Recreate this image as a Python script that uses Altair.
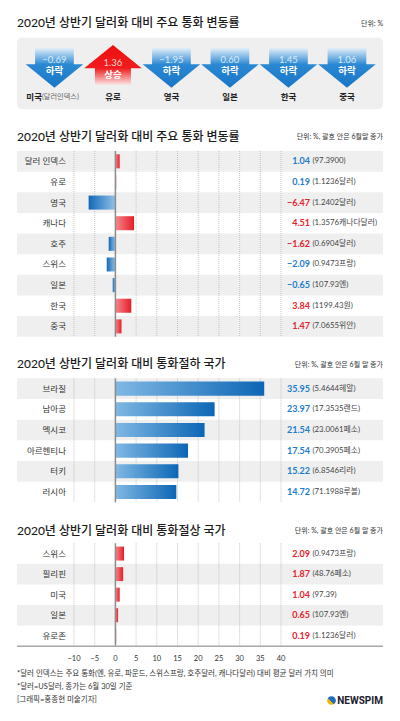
import altair as alt
import pandas as pd

# ---------------- data ----------------
arrow_names = ["미국", "유로", "영국", "일본", "한국", "중국"]
arrow_vals = [-0.69, 1.36, -1.95, 0.60, 1.45, 1.06]
arrow_dir = ["하락", "상승", "하락", "하락", "하락", "하락"]
arrow_suffix = ["(달러인덱스)", "", "", "", "", ""]

cats2 = ["달러 인덱스", "유로", "영국", "캐나다", "호주", "스위스", "일본", "한국", "중국"]
vals2 = [1.04, 0.19, -6.47, 4.51, -1.62, -2.09, -0.65, 3.84, 1.47]
notes2 = ["(97.3900)", "(1.1236달러)", "(1.2402달러)", "(1.3576캐나다달러)", "(0.6904달러)",
          "(0.9473프랑)", "(107.93엔)", "(1199.43원)", "(7.0655위안)"]
tones2 = ["blue", "blue", "red", "red", "red", "blue", "blue", "red", "red"]

cats3 = ["브라질", "남아공", "멕시코", "아르헨티나", "터키", "러시아"]
vals3 = [35.95, 23.97, 21.54, 17.54, 15.22, 14.72]
notes3 = ["(5.4644헤알)", "(17.3535랜드)", "(23.0061페소)", "(70.3905페소)", "(6.8546리라)", "(71.1988루블)"]
tones3 = ["blue"] * 6

cats4 = ["스위스", "필리핀", "미국", "일본", "유로존"]
vals4 = [2.09, 1.87, 1.04, 0.65, 0.19]
notes4 = ["(0.9473프랑)", "(48.76페소)", "(97.39)", "(107.93엔)", "(1.1236달러)"]
tones4 = ["red"] * 5

ticks = [-10, -5, 0, 5, 10, 15, 20, 25, 30, 35, 40]

titles = ["2020년 상반기 달러화 대비 주요 통화 변동률",
          "2020년 상반기 달러화 대비 주요 통화 변동률",
          "2020년 상반기 달러화 대비 통화절하 국가",
          "2020년 상반기 달러화 대비 통화절상 국가"]
units = ["단위: %", "단위: %, 괄호 안은 6월말 종가", "단위: %, 괄호 안은 6월 말 종가", "단위: %, 괄호 안은 6월 말 종가"]
footnotes = ["*달러 인덱스는 주요 통화(엔, 유로, 파운드, 스위스프랑, 호주달러, 캐나다달러) 대비 평균 달러 가치 의미",
             "*달러=US달러, 종가는 6월 30일 기준",
             "[그래픽=홍종현 미술기자]"]

# ---------------- style ----------------
FONT = "Lato, Noto Sans CJK KR, sans-serif"
BLUE = "#1b7dcc"
RED = "#e8222b"
W, H = 384, 705
LEFT, RIGHT = 9, 375
X_RANGE = [66, 273]

red_grad = {"gradient": "linear", "x1": 0, "y1": 0, "x2": 1, "y2": 0,
            "stops": [{"offset": 0, "color": "#f6868c"}, {"offset": 1, "color": "#e61e29"}]}
blue_grad = {"gradient": "linear", "x1": 0, "y1": 0, "x2": 1, "y2": 0,
             "stops": [{"offset": 0, "color": "#80b8e4"}, {"offset": 1, "color": "#0c66b5"}]}
blue_neg_grad = {"gradient": "linear", "x1": 0, "y1": 0, "x2": 1, "y2": 0,
                 "stops": [{"offset": 0, "color": "#1467b5"}, {"offset": 1, "color": "#90c2e9"}]}
down_grad = {"gradient": "linear", "x1": 0, "y1": 0, "x2": 0, "y2": 1,
             "stops": [{"offset": 0, "color": "#e6f1fa"}, {"offset": 0.42, "color": "#2b88d3"},
                       {"offset": 1, "color": "#1876c6"}]}
up_grad = {"gradient": "linear", "x1": 0, "y1": 0, "x2": 0, "y2": 1,
           "stops": [{"offset": 0, "color": "#ee1010"}, {"offset": 0.58, "color": "#f11c1c"},
                     {"offset": 1, "color": "#fbe6e6"}]}

DOWN_PATH = "M -0.672 -0.694 L 0.672 -0.694 L 0.672 -0.118 L 1 -0.118 L 0 0.694 L -1 -0.118 L -0.672 -0.118 Z"
UP_PATH = "M 0 -0.694 L 1 0.115 L 0.625 0.115 L 0.625 0.694 L -0.625 0.694 L -0.625 0.115 L -1 0.115 Z"

layers = []


def one(text):
    return alt.Chart(pd.DataFrame({"t": [text]}))


# ---------------- titles ----------------
title_y = [15.3, 128.7, 356, 522.5]
for t, u, ty in zip(titles, units, title_y):
    layers.append(one(t).mark_text(align="left", baseline="middle", fontSize=12, fontWeight=500,
                                   color="#1a1a1a", font=FONT)
                  .encode(text="t:N", x=alt.value(LEFT), y=alt.value(ty)))
    layers.append(one(u).mark_text(align="right", baseline="middle", fontSize=7, color="#333", font=FONT)
                  .encode(text="t:N", x=alt.value(RIGHT), y=alt.value(ty + 0.5)))

# ---------------- arrow panel ----------------
layers.append(one("").mark_rect(fill="#efefef", cornerRadius=5)
              .encode(x=alt.value(LEFT), x2=alt.value(RIGHT), y=alt.value(29.7), y2=alt.value(101.3)))

adf = pd.DataFrame({"name": arrow_names, "v": arrow_vals, "dir": arrow_dir,
                    "suf": arrow_suffix, "i": list(range(len(arrow_names)))})
AX = alt.X("name:N", scale=alt.Scale(domain=arrow_names, range=[17.2, 368.2], paddingInner=0, paddingOuter=0),
           axis=None)
abase = alt.Chart(adf)
down = abase.transform_filter("datum.dir == '하락'")
up = abase.transform_filter("datum.dir == '상승'")
layers.append(down.mark_point(shape=DOWN_PATH, size=3318, filled=True, fill=down_grad, strokeWidth=0, opacity=1)
              .encode(x=AX, y=alt.value(59.7)))
layers.append(up.mark_point(shape=UP_PATH, size=3318, filled=True, fill=up_grad, strokeWidth=0, opacity=1)
              .encode(x=AX, y=alt.value(57)))
layers.append(down.mark_text(fontSize=9.5, color="#d6ebfa", font=FONT, baseline="middle")
              .encode(x=AX, y=alt.value(52), text=alt.Text("v:Q", format=".2f")))
layers.append(down.mark_text(fontSize=9.5, color="white", fontWeight="bold", font=FONT, baseline="middle")
              .encode(x=AX, y=alt.value(62.8), text="dir:N"))
layers.append(up.mark_text(fontSize=9.5, color="#ffd3d3", font=FONT, baseline="middle")
              .encode(x=AX, y=alt.value(55.3), text=alt.Text("v:Q", format=".2f")))
layers.append(up.mark_text(fontSize=9.5, color="white", fontWeight="bold", font=FONT, baseline="middle")
              .encode(x=AX, y=alt.value(66.5), text="dir:N"))
layers.append(abase.transform_filter("datum.i > 0")
              .mark_text(fontSize=8.5, color="#222", fontWeight="bold", font=FONT, baseline="middle")
              .encode(x=AX, y=alt.value(88.7), text="name:N"))
layers.append(abase.transform_filter("datum.i == 0")
              .mark_text(fontSize=8.5, color="#222", fontWeight="bold", font=FONT, baseline="middle",
                         align="right", dx=-12.5)
              .encode(x=AX, y=alt.value(88.7), text="name:N"))
layers.append(abase.transform_filter("datum.i == 0")
              .mark_text(fontSize=7.2, color="#666", font=FONT, baseline="middle", align="left", dx=-12.5)
              .encode(x=AX, y=alt.value(88.7), text="suf:N"))

# ---------------- bar sections ----------------
xsc = alt.Scale(domain=[ticks[0], ticks[-1]], range=X_RANGE, nice=False, zero=False)
tdf = pd.DataFrame({"t": ticks})


def section(cats, vals, notes, tones, yr, parity, pos_fill):
    df = pd.DataFrame({"cat": cats, "v": vals, "note": notes, "tone": tones, "i": list(range(len(cats)))})
    Y = alt.Y("cat:N", scale=alt.Scale(domain=cats, range=yr, paddingInner=0, paddingOuter=0), axis=None)
    X = alt.X("v:Q", scale=xsc, axis=None)
    base = alt.Chart(df)
    out = []
    out.append(base.transform_filter(f"datum.i % 2 == {parity}").mark_rect(fill="#efefef")
               .encode(x=alt.value(LEFT), x2=alt.value(RIGHT), y=Y))
    out.append(alt.Chart(tdf).transform_filter("datum.t != 0")
               .mark_rule(color="#b8b8b8", strokeDash=[1, 1], strokeWidth=0.8)
               .encode(x=alt.X("t:Q", scale=xsc, axis=None), y=alt.value(yr[0]), y2=alt.value(yr[1])))
    out.append(base.transform_filter("datum.v >= 0")
               .mark_bar(fill=pos_fill, height={"band": 0.68})
               .encode(x=X, x2=alt.datum(0), y=Y))
    out.append(base.transform_filter("datum.v < 0")
               .mark_bar(fill=blue_neg_grad, height={"band": 0.68})
               .encode(x=X, x2=alt.datum(0), y=Y))
    out.append(alt.Chart(tdf).transform_filter("datum.t == 0")
               .mark_rule(color="#8c8c8c", strokeWidth=1.5)
               .encode(x=alt.X("t:Q", scale=xsc, axis=None), y=alt.value(yr[0]), y2=alt.value(yr[1])))
    out.append(base.mark_text(align="right", baseline="middle", fontSize=8.5, color="#333", font=FONT)
               .encode(text="cat:N", x=alt.value(58), y=Y))
    out.append(base.mark_text(align="right", baseline="middle", fontSize=9, fontWeight="bold", font=FONT)
               .encode(text=alt.Text("v:Q", format=".2f"),
                       color=alt.Color("tone:N", scale=alt.Scale(domain=["blue", "red"], range=[BLUE, RED]),
                                       legend=None),
                       x=alt.value(302), y=Y))
    out.append(base.mark_text(align="left", baseline="middle", fontSize=7.8, color="#444", font=FONT)
               .encode(text="note:N", x=alt.value(304.5), y=Y))
    return out


layers += section(cats2, vals2, notes2, tones2, [143, 328.7], 0, red_grad)
layers += section(cats3, vals3, notes3, tones3, [370.3, 494.3], 0, blue_grad)
layers += section(cats4, vals4, notes4, tones4, [535.3, 638], 1, red_grad)

# bottom axis line and tick labels
layers.append(one("").mark_rule(color="#a8a8a8", strokeWidth=1.5)
              .encode(x=alt.value(LEFT), x2=alt.value(RIGHT), y=alt.value(638.2)))
layers.append(alt.Chart(tdf).mark_text(fontSize=7.5, color="#333", font=FONT, baseline="middle")
              .encode(x=alt.X("t:Q", scale=xsc, axis=None), y=alt.value(650.5), text="t:Q"))

# footnotes
for fn, fy in zip(footnotes, [666, 678.5, 692]):
    layers.append(one(fn).mark_text(align="left", baseline="middle", fontSize=7.5, color="#333", font=FONT)
                  .encode(text="t:N", x=alt.value(LEFT), y=alt.value(fy)))

# logo
logo_grad = {"gradient": "linear", "x1": 0, "y1": 1, "x2": 1, "y2": 0,
             "stops": [{"offset": 0, "color": "#f4b400"}, {"offset": 0.4, "color": "#f4b400"},
                       {"offset": 0.45, "color": "#1a6fc0"}, {"offset": 1, "color": "#1a6fc0"}]}
layers.append(one("").mark_point(shape="circle", size=75, filled=True, fill=logo_grad, strokeWidth=0, opacity=1)
              .encode(x=alt.value(323.5), y=alt.value(692.5)))
layers.append(one("NEWSPIM").mark_text(align="right", baseline="middle", fontSize=10, fontWeight="bold",
                                       color="#1c1c2a", font="Roboto, sans-serif")
              .encode(text="t:N", x=alt.value(RIGHT), y=alt.value(692.5)))

chart = (alt.layer(*layers)
         .resolve_scale(x="independent", y="independent", color="independent")
         .properties(width=W, height=H, autosize=alt.AutoSizeParams(type="none"), padding=0,
                     background="white")
         .configure_view(stroke=None))

chart.save("out.html", embed_options={"renderer": "svg", "actions": False})
